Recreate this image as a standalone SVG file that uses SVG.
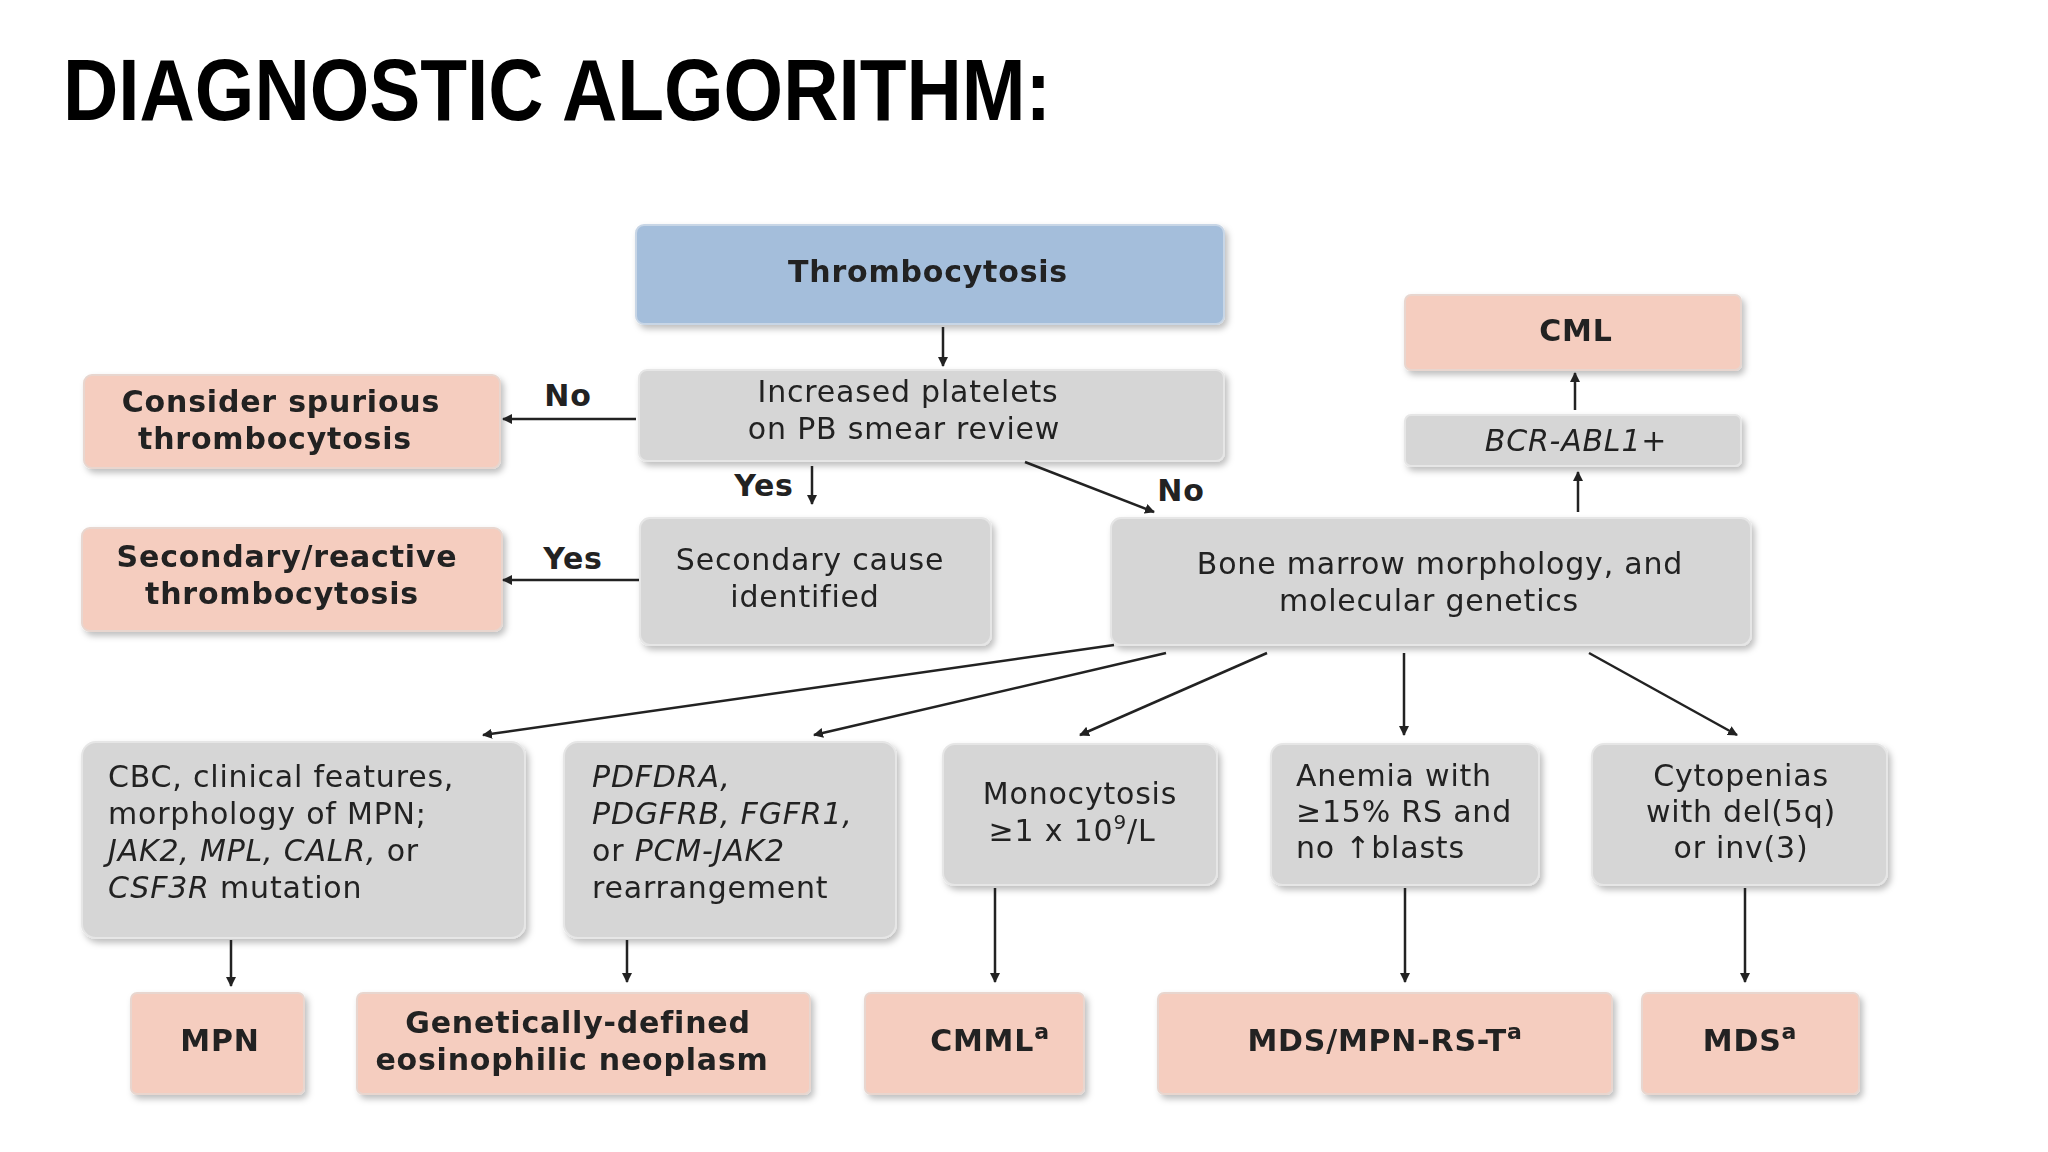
<svg xmlns="http://www.w3.org/2000/svg" width="2048" height="1152" viewBox="0 0 2048 1152">
<style>
.t{font-family:"DejaVu Sans","Liberation Sans",Arial,sans-serif;font-size:30px;letter-spacing:0.8px;fill:#222}
.b{font-weight:bold}
.pk{fill:#f5cdbf;stroke:#e8d6cf;stroke-width:2}
.gy{fill:#d6d6d6;stroke:#e6e6e6;stroke-width:2}
.bl{fill:#a4bedb;stroke:#c8d6e6;stroke-width:2}
.c line{stroke:#222;stroke-width:2.5;marker-end:url(#a)}
</style>
<defs>
<marker id="a" markerWidth="10" markerHeight="10" refX="9" refY="5" orient="auto" markerUnits="userSpaceOnUse"><path d="M0,0 L10,5 L0,10 Z" fill="#222"/></marker>
<filter id="s" x="-5%" y="-10%" width="115%" height="130%"><feDropShadow dx="3" dy="4" stdDeviation="3" flood-color="#000" flood-opacity="0.25"/></filter>
</defs>
<rect width="2048" height="1152" fill="#fff"/>
<text x="63" y="120" font-family="Liberation Sans,Arial,sans-serif" font-weight="bold" font-size="88" textLength="988" lengthAdjust="spacingAndGlyphs" fill="#000">DIAGNOSTIC ALGORITHM:</text>
<g filter="url(#s)">
<g id="thrombo"><rect class="bl" x="636" y="225" width="588" height="99" rx="8"/><text class="t b" x="928" y="282" text-anchor="middle">Thrombocytosis</text></g>
<g id="increased"><rect class="gy" x="639" y="370" width="585" height="91" rx="8"/><text class="t" x="908" y="402" text-anchor="middle">Increased platelets</text><text class="t" x="904" y="439" text-anchor="middle">on PB smear review</text></g>
<g id="spurious"><rect class="pk" x="84" y="375" width="416" height="93" rx="8"/><text class="t b" x="281" y="412" text-anchor="middle">Consider spurious</text><text class="t b" x="275" y="449" text-anchor="middle">thrombocytosis</text></g>
<g id="reactive"><rect class="pk" x="82" y="528" width="420" height="103" rx="8"/><text class="t b" x="287" y="567" text-anchor="middle">Secondary/reactive</text><text class="t b" x="282" y="604" text-anchor="middle">thrombocytosis</text></g>
<g id="secondary"><rect class="gy" x="640" y="518" width="351" height="127" rx="10"/><text class="t" x="810" y="570" text-anchor="middle">Secondary cause</text><text class="t" x="805" y="607" text-anchor="middle">identified</text></g>
<g id="bm"><rect class="gy" x="1111" y="518" width="640" height="127" rx="10"/><text class="t" x="1440" y="574" text-anchor="middle">Bone marrow morphology, and</text><text class="t" x="1429" y="611" text-anchor="middle">molecular genetics</text></g>
<g id="cml"><rect class="pk" x="1405" y="295" width="336" height="75" rx="6"/><text class="t b" x="1576" y="341" text-anchor="middle">CML</text></g>
<g id="bcr"><rect class="gy" x="1405" y="415" width="336" height="51" rx="6"/><text class="t" x="1576" y="451" text-anchor="middle" font-style="italic">BCR-ABL1+</text></g>
<g id="cbc"><rect class="gy" x="82" y="742" width="443" height="196" rx="14"/><text class="t" x="108" y="787">CBC, clinical features,</text><text class="t" x="108" y="824">morphology of MPN;</text><text class="t" x="108" y="861"><tspan font-style="italic">JAK2, MPL, CALR,</tspan> or</text><text class="t" x="108" y="898"><tspan font-style="italic">CSF3R</tspan> mutation</text></g>
<g id="pdg"><rect class="gy" x="564" y="742" width="332" height="196" rx="14"/><text class="t" x="592" y="787" font-style="italic">PDFDRA,</text><text class="t" x="592" y="824" font-style="italic">PDGFRB, FGFR1,</text><text class="t" x="592" y="861">or <tspan font-style="italic">PCM-JAK2</tspan></text><text class="t" x="592" y="898">rearrangement</text></g>
<g id="mono"><rect class="gy" x="943" y="744" width="274" height="141" rx="12"/><text class="t" x="1080" y="804" text-anchor="middle">Monocytosis</text><text class="t" x="1072" y="841" text-anchor="middle">≥1 x 10<tspan font-size="20" dy="-12">9</tspan><tspan dy="12">/L</tspan></text></g>
<g id="anemia"><rect class="gy" x="1271" y="744" width="268" height="141" rx="12"/><text class="t" x="1296" y="786">Anemia with</text><text class="t" x="1296" y="822">≥15% RS and</text><text class="t" x="1296" y="858">no ↑blasts</text></g>
<g id="cyto"><rect class="gy" x="1592" y="744" width="295" height="141" rx="12"/><text class="t" x="1741" y="786" text-anchor="middle">Cytopenias</text><text class="t" x="1741" y="822" text-anchor="middle">with del(5q)</text><text class="t" x="1741" y="858" text-anchor="middle">or inv(3)</text></g>
<g id="mpn"><rect class="pk" x="131" y="993" width="173" height="101" rx="6"/><text class="t b" x="220" y="1051" text-anchor="middle">MPN</text></g>
<g id="gen"><rect class="pk" x="357" y="993" width="453" height="101" rx="6"/><text class="t b" x="578" y="1033" text-anchor="middle">Genetically-defined</text><text class="t b" x="572" y="1070" text-anchor="middle">eosinophilic neoplasm</text></g>
<g id="cmml"><rect class="pk" x="865" y="993" width="219" height="101" rx="6"/><text class="t b" x="990" y="1051" text-anchor="middle">CMML<tspan font-size="22" dy="-12">a</tspan></text></g>
<g id="mdsmpn"><rect class="pk" x="1158" y="993" width="454" height="101" rx="6"/><text class="t b" x="1385" y="1051" text-anchor="middle">MDS/MPN-RS-T<tspan font-size="22" dy="-12">a</tspan></text></g>
<g id="mds"><rect class="pk" x="1642" y="993" width="217" height="101" rx="6"/><text class="t b" x="1750" y="1051" text-anchor="middle">MDS<tspan font-size="22" dy="-12">a</tspan></text></g>
</g>
<g id="connectors" class="c">
<line x1="943" y1="327" x2="943" y2="366"/>
<line x1="636" y1="419" x2="503" y2="419"/>
<line x1="812" y1="466" x2="812" y2="504"/>
<line x1="1025" y1="462" x2="1154" y2="512"/>
<line x1="639" y1="580" x2="503" y2="580"/>
<line x1="1578" y1="512" x2="1578" y2="472"/>
<line x1="1575" y1="410" x2="1575" y2="373"/>
<line x1="1114" y1="645" x2="483" y2="735"/>
<line x1="1166" y1="653" x2="814" y2="735"/>
<line x1="1267" y1="653" x2="1080" y2="735"/>
<line x1="1404" y1="653" x2="1404" y2="735"/>
<line x1="1589" y1="653" x2="1737" y2="735"/>
<line x1="231" y1="940" x2="231" y2="986"/>
<line x1="627" y1="940" x2="627" y2="982"/>
<line x1="995" y1="888" x2="995" y2="982"/>
<line x1="1405" y1="888" x2="1405" y2="982"/>
<line x1="1745" y1="888" x2="1745" y2="982"/>
<text class="t b" x="568" y="406" text-anchor="middle">No</text>
<text class="t b" x="764" y="496" text-anchor="middle">Yes</text>
<text class="t b" x="1181" y="501" text-anchor="middle">No</text>
<text class="t b" x="573" y="569" text-anchor="middle">Yes</text>
</g>
</svg>
